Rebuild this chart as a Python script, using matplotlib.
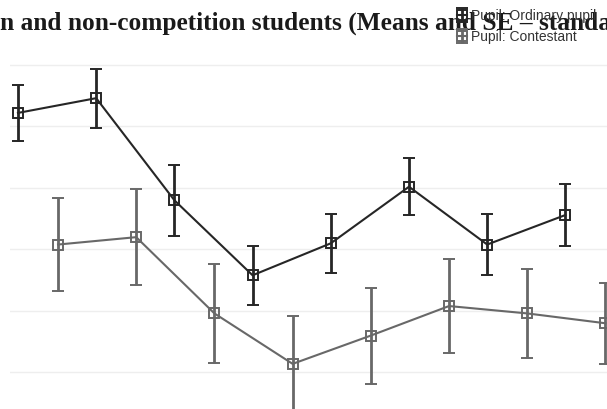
import numpy as np
import matplotlib
matplotlib.use('Agg')
import matplotlib.pyplot as plt

# eight measurement points, two pupil groups
groups = ['1', '2', '3', '4', '5', '6', '7', '8']
ordinary_mean = [4.11, 4.23, 3.40, 2.79, 3.05, 3.51, 3.04, 3.28]
ordinary_se = [0.23, 0.24, 0.29, 0.24, 0.24, 0.23, 0.25, 0.25]
contestant_mean = [3.04, 3.10, 2.48, 2.07, 2.30, 2.54, 2.48, 2.40]
contestant_se = [0.38, 0.39, 0.40, 0.39, 0.39, 0.38, 0.36, 0.33]
labels = ['Pupil: Ordinary pupil', 'Pupil: Contestant']
yticks = [2.0, 2.5, 3.0, 3.5, 4.0, 4.5]

fig = plt.figure(figsize=(6.07, 4.09), dpi=100)
ax = fig.add_axes([10 / 607, 0, 1 - 10 / 607, 1])

x = np.arange(len(groups))
dodge = 0.256

series = [
    (ordinary_mean, ordinary_se, '#262626', -dodge, labels[0]),
    (contestant_mean, contestant_se, '#686868', dodge, labels[1]),
]
for mean, se, col, off, lab in series:
    ax.errorbar(x + off, mean, yerr=se, color=col, lw=1.5, elinewidth=2,
                capsize=4.5, capthick=1.8, marker='s', ms=6.5, mfc='none',
                mec=col, mew=1.4, label=lab, zorder=3)

ax.set_xlim(-0.358, 7.276)
ax.set_ylim(1.703, 5.028)
ax.set_yticks(yticks)
ax.yaxis.grid(True, color='#eeeeee', lw=1)
ax.set_axisbelow(True)
ax.tick_params(left=False, bottom=False, labelleft=False, labelbottom=False)
for s in ax.spines.values():
    s.set_visible(False)

fig.text(0, 1 - 30 / 409,
         'n and non-competition students (Means and SE \u2013 standard error)',
         family='Liberation Serif', weight='bold', fontsize=18.3,
         va='baseline', ha='left', color='#1a1a1a', zorder=1)

leg = fig.legend(loc='upper left', bbox_to_anchor=(450 / 607, 1 - 2 / 409),
                 frameon=False, handlelength=0.7,
                 handletextpad=0.3, labelspacing=0.5, borderpad=0,
                 prop={'family': 'Liberation Sans', 'size': 10})
for t in leg.get_texts():
    t.set_color('#333333')

fig.savefig('out.png', dpi=100)
